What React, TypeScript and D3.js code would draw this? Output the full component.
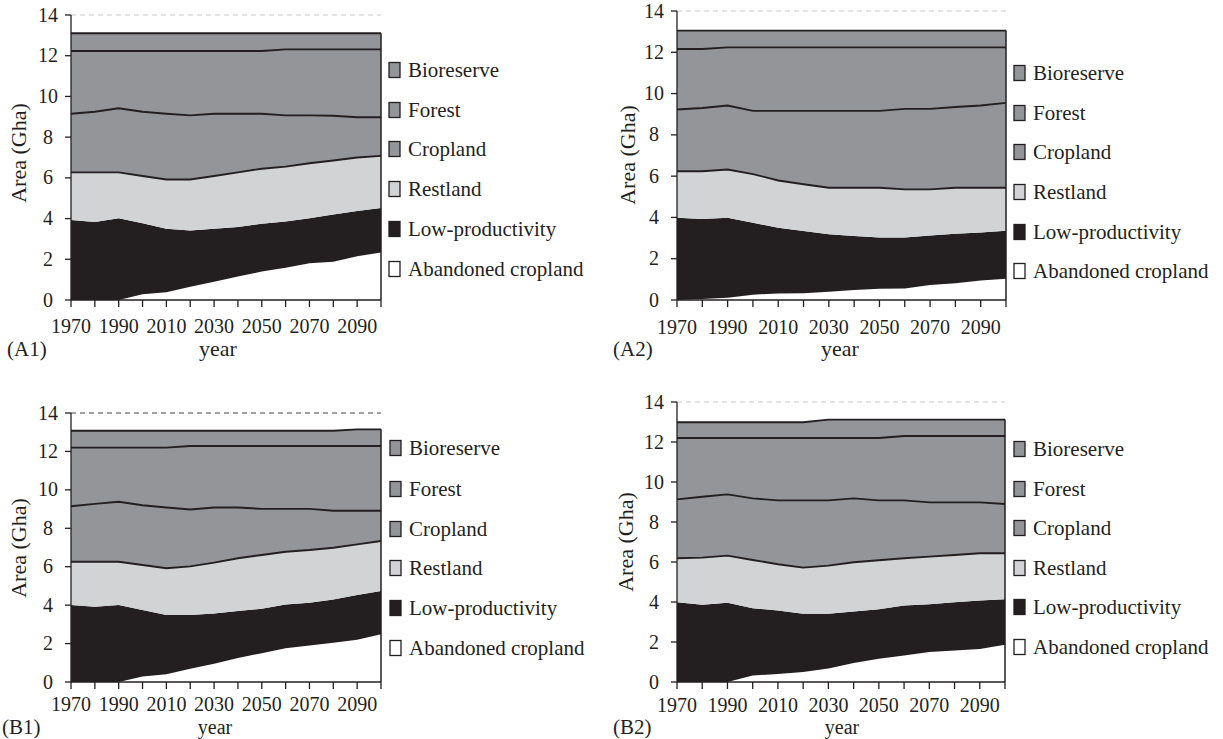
import React from "react";
import * as d3 from "d3";

const YEARS = [1970, 1980, 1990, 2000, 2010, 2020, 2030, 2040, 2050, 2060, 2070, 2080, 2090, 2100];
const X_TICK_LABELS = [1970, 1990, 2010, 2030, 2050, 2070, 2090];
const Y_TICKS = [0, 2, 4, 6, 8, 10, 12, 14];
const SERIES_NAMES = ["Abandoned cropland", "Low-productivity", "Restland", "Cropland", "Forest", "Bioreserve"];
const SERIES_COLORS = ["#ffffff", "#231f20", "#d1d3d4", "#939598", "#939598", "#939598"];

// Panel A1 (Gha per land-use class)
const A1_ABANDONED = [0, 0, 0, 0.28, 0.38, 0.65, 0.9, 1.15, 1.4, 1.58, 1.8, 1.88, 2.15, 2.33];
const A1_LOWPROD = [3.93, 3.83, 4.01, 3.49, 3.12, 2.77, 2.6, 2.44, 2.35, 2.28, 2.22, 2.32, 2.22, 2.19];
const A1_RESTLAND = [2.34, 2.44, 2.26, 2.32, 2.42, 2.5, 2.59, 2.68, 2.7, 2.69, 2.7, 2.65, 2.63, 2.56];
const A1_CROPLAND = [2.88, 2.98, 3.15, 3.16, 3.23, 3.15, 3.06, 2.88, 2.7, 2.52, 2.35, 2.2, 1.98, 1.9];
const A1_FOREST = [3.08, 2.98, 2.81, 2.98, 3.08, 3.16, 3.08, 3.08, 3.08, 3.24, 3.24, 3.26, 3.33, 3.33];
const A1_BIORESERVE = [0.87, 0.87, 0.87, 0.87, 0.87, 0.87, 0.87, 0.87, 0.87, 0.79, 0.79, 0.79, 0.79, 0.79];

// Panel A2
const A2_ABANDONED = [0, 0.05, 0.11, 0.26, 0.32, 0.33, 0.4, 0.48, 0.55, 0.56, 0.73, 0.81, 0.94, 1.03];
const A2_LOWPROD = [3.98, 3.87, 3.87, 3.48, 3.18, 3.01, 2.78, 2.62, 2.48, 2.47, 2.4, 2.4, 2.33, 2.32];
const A2_RESTLAND = [2.26, 2.32, 2.34, 2.36, 2.29, 2.27, 2.26, 2.34, 2.41, 2.33, 2.23, 2.23, 2.17, 2.09];
const A2_CROPLAND = [2.99, 3.06, 3.1, 3.06, 3.37, 3.55, 3.72, 3.72, 3.72, 3.9, 3.9, 3.91, 3.98, 4.11];
const A2_FOREST = [2.93, 2.86, 2.82, 3.08, 3.08, 3.08, 3.08, 3.08, 3.08, 2.98, 2.98, 2.89, 2.82, 2.69];
const A2_BIORESERVE = [0.89, 0.89, 0.81, 0.81, 0.81, 0.81, 0.81, 0.81, 0.81, 0.81, 0.81, 0.81, 0.81, 0.81];

// Panel B1
const B1_ABANDONED = [0, 0, 0, 0.29, 0.4, 0.69, 0.95, 1.25, 1.5, 1.76, 1.9, 2.04, 2.2, 2.49];
const B1_LOWPROD = [4.01, 3.91, 4.01, 3.46, 3.09, 2.8, 2.61, 2.45, 2.31, 2.27, 2.22, 2.25, 2.33, 2.25];
const B1_RESTLAND = [2.25, 2.35, 2.25, 2.34, 2.43, 2.53, 2.65, 2.74, 2.8, 2.75, 2.75, 2.7, 2.63, 2.6];
const B1_CROPLAND = [2.89, 3.01, 3.12, 3.11, 3.16, 2.96, 2.87, 2.64, 2.4, 2.23, 2.14, 1.92, 1.75, 1.57];
const B1_FOREST = [3.05, 2.93, 2.82, 3.0, 3.12, 3.3, 3.2, 3.2, 3.27, 3.27, 3.27, 3.37, 3.37, 3.37];
const B1_BIORESERVE = [0.88, 0.88, 0.88, 0.88, 0.88, 0.8, 0.8, 0.8, 0.8, 0.8, 0.8, 0.8, 0.87, 0.87];

// Panel B2
const B2_ABANDONED = [0, 0, 0, 0.33, 0.4, 0.5, 0.67, 0.95, 1.16, 1.33, 1.5, 1.58, 1.65, 1.86];
const B2_LOWPROD = [3.99, 3.86, 3.96, 3.36, 3.18, 2.91, 2.74, 2.58, 2.48, 2.49, 2.39, 2.41, 2.42, 2.28];
const B2_RESTLAND = [2.2, 2.36, 2.36, 2.41, 2.31, 2.31, 2.41, 2.46, 2.45, 2.37, 2.38, 2.36, 2.37, 2.3];
const B2_CROPLAND = [2.94, 3.04, 3.06, 3.08, 3.19, 3.36, 3.26, 3.19, 2.99, 2.89, 2.71, 2.63, 2.54, 2.46];
const B2_FOREST = [3.07, 2.94, 2.82, 3.02, 3.12, 3.12, 3.12, 3.02, 3.12, 3.22, 3.32, 3.32, 3.32, 3.4];
const B2_BIORESERVE = [0.79, 0.79, 0.79, 0.79, 0.79, 0.79, 0.92, 0.92, 0.92, 0.82, 0.82, 0.82, 0.82, 0.82];

const FONT = "'Liberation Serif', 'Times New Roman', serif";
const INK = "#231f20";

type Layout = {
  label: string;
  x0: number; x1: number; yTop: number; yBot: number;
  refColor: string;
  legX: number; legY: number[];
  tickBase: number; titleBase: number; titleSize: number; labelX: number; yearX: number;
  yTitleX: number; yTitleY: number;
};

const PANELS: { series: number[][]; layout: Layout }[] = [
  {
    series: [A1_ABANDONED, A1_LOWPROD, A1_RESTLAND, A1_CROPLAND, A1_FOREST, A1_BIORESERVE],
    layout: { label: "(A1)", x0: 71, x1: 381, yTop: 15, yBot: 300, refColor: "#c8c8c8",
      legX: 389, legY: [70, 110, 149, 189, 229, 269], tickBase: 333, titleBase: 356, titleSize: 22, labelX: 7, yearX: 218,
      yTitleX: 18, yTitleY: 153 },
  },
  {
    series: [A2_ABANDONED, A2_LOWPROD, A2_RESTLAND, A2_CROPLAND, A2_FOREST, A2_BIORESERVE],
    layout: { label: "(A2)", x0: 677, x1: 1006, yTop: 11, yBot: 300, refColor: "#c8c8c8",
      legX: 1014, legY: [73, 113, 152, 192, 232, 271], tickBase: 334, titleBase: 356, titleSize: 22, labelX: 613, yearX: 840,
      yTitleX: 627, yTitleY: 155 },
  },
  {
    series: [B1_ABANDONED, B1_LOWPROD, B1_RESTLAND, B1_CROPLAND, B1_FOREST, B1_BIORESERVE],
    layout: { label: "(B1)", x0: 71, x1: 381, yTop: 413, yBot: 682, refColor: "#444444",
      legX: 390, legY: [448, 489, 529, 568, 608, 648], tickBase: 711, titleBase: 734, titleSize: 20, labelX: 2, yearX: 215,
      yTitleX: 18, yTitleY: 548 },
  },
  {
    series: [B2_ABANDONED, B2_LOWPROD, B2_RESTLAND, B2_CROPLAND, B2_FOREST, B2_BIORESERVE],
    layout: { label: "(B2)", x0: 677, x1: 1005, yTop: 402, yBot: 682, refColor: "#c8c8c8",
      legX: 1014, legY: [449, 489, 528, 568, 607, 647], tickBase: 712, titleBase: 734, titleSize: 20, labelX: 613, yearX: 842,
      yTitleX: 625, yTitleY: 542 },
  },
];

function Panel({ series, layout }: { series: number[][]; layout: Layout }) {
  const L = layout;
  const x = d3.scaleLinear().domain([1970, 2100]).range([L.x0, L.x1]);
  const y = d3.scaleLinear().domain([0, 14]).range([L.yBot, L.yTop]);
  const rows = YEARS.map((yr, i) => {
    const r: any = { year: yr };
    SERIES_NAMES.forEach((k, j) => (r[k] = series[j][i]));
    return r;
  });
  const stacked = d3.stack<any>().keys(SERIES_NAMES)(rows);
  const area = d3
    .area<any>()
    .x((d) => x(d.data.year))
    .y0((d) => y(d[0]))
    .y1((d) => y(d[1]));
  const line = d3
    .line<any>()
    .x((d) => x(d.data.year))
    .y((d) => y(d[1]));
  const last = stacked[stacked.length - 1];
  const lastPt = last[last.length - 1];

  return (
    <g>
      <line x1={L.x0} x2={L.x1} y1={y(14)} y2={y(14)} stroke={L.refColor} strokeWidth={1} strokeDasharray="5,4" />
      {stacked.map((s, i) => (
        <path key={s.key} d={area(s) || ""} fill={SERIES_COLORS[i]} stroke="none" />
      ))}
      {stacked.map((s, i) =>
        i >= 2 ? <path key={"l" + s.key} d={line(s) || ""} fill="none" stroke={INK} strokeWidth={1.9} /> : null
      )}
      <line x1={x(2100)} x2={x(2100)} y1={y(0)} y2={y(lastPt[1])} stroke={INK} strokeWidth={1.5} />
      {/* y axis */}
      <line x1={L.x0} x2={L.x0} y1={y(0)} y2={y(14)} stroke={INK} strokeWidth={1.3} />
      {Y_TICKS.map((t) => (
        <g key={"yt" + t}>
          <line x1={L.x0 - 6} x2={L.x0} y1={y(t)} y2={y(t)} stroke={INK} strokeWidth={1.3} />
          <text x={L.x0 - 23} y={y(t) + 6.5} textAnchor="middle" fontFamily={FONT} fontSize={20} fill={INK}>
            {t}
          </text>
        </g>
      ))}
      {/* x axis */}
      <line x1={L.x0} x2={L.x1} y1={y(0)} y2={y(0)} stroke={INK} strokeWidth={1.3} />
      {YEARS.map((t) => (
        <line key={"xt" + t} x1={x(t)} x2={x(t)} y1={y(0)} y2={y(0) + 7} stroke={INK} strokeWidth={1.3} />
      ))}
      {X_TICK_LABELS.map((t) => (
        <text key={"xl" + t} x={x(t)} y={L.tickBase} textAnchor="middle" fontFamily={FONT} fontSize={20} fill={INK}>
          {t}
        </text>
      ))}
      <text x={L.yearX} y={L.titleBase} textAnchor="middle" fontFamily={FONT} fontSize={L.titleSize} fill={INK}>
        year
      </text>
      <text x={L.labelX} y={L.titleBase} textAnchor="start" fontFamily={FONT} fontSize={21} fill={INK}>
        {L.label}
      </text>
      <text
        transform={`translate(${L.yTitleX},${L.yTitleY}) rotate(-90)`}
        textAnchor="middle"
        dominantBaseline="central"
        fontFamily={FONT}
        fontSize={22}
        fill={INK}
      >
        Area (Gha)
      </text>
      {/* legend */}
      {SERIES_NAMES.slice()
        .reverse()
        .map((name, k) => {
          const idx = SERIES_NAMES.length - 1 - k;
          const cy = L.legY[k];
          return (
            <g key={"lg" + name}>
              <rect x={L.legX} y={cy - 7.5} width={11} height={15} fill={SERIES_COLORS[idx]} stroke={INK} strokeWidth={1.3} />
              <text x={L.legX + 19} y={cy + 7} fontFamily={FONT} fontSize={21} fill={INK}>
                {name}
              </text>
            </g>
          );
        })}
    </g>
  );
}

export default function App() {
  return (
    <svg
      width={1223}
      height={739}
      viewBox="0 0 1223 739"
      style={{ position: "absolute", left: 0, top: 0, background: "#ffffff" }}
    >
      <rect x={0} y={0} width={1223} height={739} fill="#ffffff" />
      {PANELS.map((p, i) => (
        <Panel key={i} series={p.series} layout={p.layout} />
      ))}
    </svg>
  );
}
